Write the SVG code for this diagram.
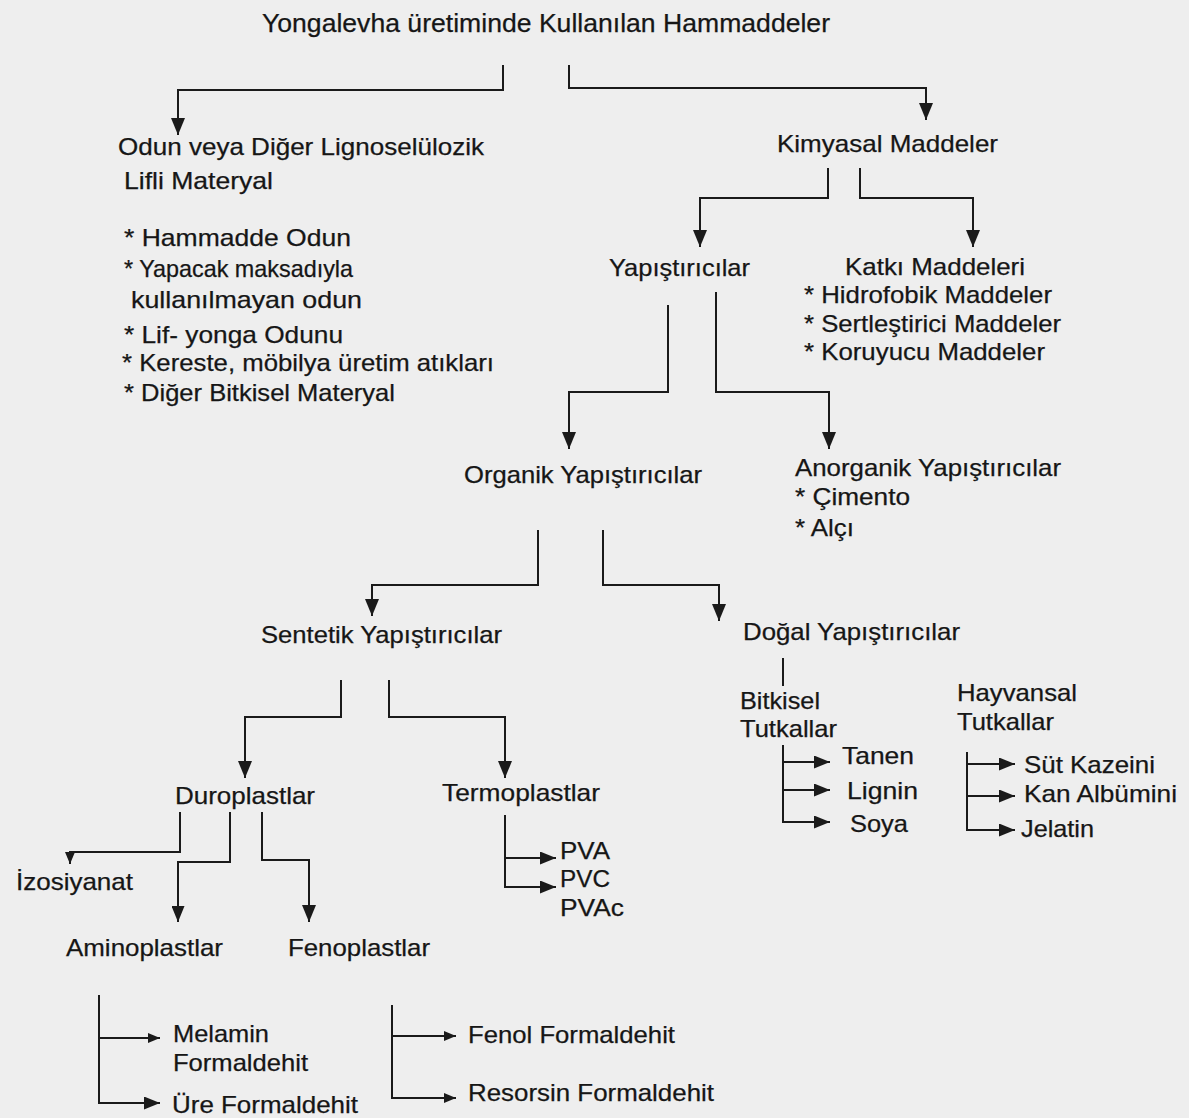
<svg xmlns="http://www.w3.org/2000/svg" width="1189" height="1118" viewBox="0 0 1189 1118">
<style>
text{font-family:"Liberation Sans",Arial,sans-serif;fill:#161616;font-size:24px;stroke:#161616;stroke-width:0.25}
.t{font-size:26px}
.c{fill:none;stroke:#1a1a1a;stroke-width:2}
.a{marker-end:url(#ah)}
.s{marker-end:url(#as)}
.m{marker-end:url(#am)}
</style>
<defs>
<marker id="ah" viewBox="0 0 17 14" refX="17" refY="7" markerWidth="17" markerHeight="14" orient="auto" markerUnits="userSpaceOnUse"><path d="M0,0 L17,7 L0,14 z" fill="#1a1a1a"/></marker>
<marker id="am" viewBox="0 0 16 13" refX="16" refY="6.5" markerWidth="16" markerHeight="13" orient="auto" markerUnits="userSpaceOnUse"><path d="M0,0 L16,6.5 L0,13 z" fill="#1a1a1a"/></marker>
<marker id="as" viewBox="0 0 12 10" refX="12" refY="5" markerWidth="12" markerHeight="10" orient="auto" markerUnits="userSpaceOnUse"><path d="M0,0 L12,5 L0,10 z" fill="#1a1a1a"/></marker>
</defs>
<rect width="1189" height="1118" fill="#eeeeee"/>
<g id="connectors">
<path class="c a" d="M503,65 V90 H178 V135"/>
<path class="c a" d="M569,65 V88 H926 V120"/>
<path class="c a" d="M828,168 V198 H700 V247"/>
<path class="c a" d="M860,168 V198 H973 V247"/>
<path class="c a" d="M668,305 V392 H569 V449"/>
<path class="c a" d="M716,292 V392 H829 V449"/>
<path class="c a" d="M538,530 V585 H372 V616"/>
<path class="c a" d="M603,530 V585 H719 V621"/>
<path class="c" d="M783,658 V686"/>
<path class="c m" d="M783,745 V822 H830"/>
<path class="c m" d="M783,762 H830"/>
<path class="c m" d="M783,790 H830"/>
<path class="c m" d="M967,752 V830 H1015"/>
<path class="c m" d="M967,764 H1015"/>
<path class="c m" d="M967,796 H1015"/>
<path class="c a" d="M341,680 V717 H245 V778"/>
<path class="c a" d="M389,680 V717 H505 V778"/>
<path class="c s" d="M180,812 V852 H70 V864"/>
<path class="c m" d="M230,812 V862 H178 V922"/>
<path class="c a" d="M262,812 V860 H309 V922"/>
<path class="c m" d="M505,815 V887 H556"/>
<path class="c m" d="M505,858 H556"/>
<path class="c m" d="M99,995 V1103 H160"/>
<path class="c s" d="M99,1038 H160"/>
<path class="c s" d="M392,1005 V1098 H456"/>
<path class="c s" d="M392,1036 H456"/>
</g>
<g id="root"><text class="t" x="262" y="32" textLength="568" lengthAdjust="spacingAndGlyphs">Yongalevha üretiminde Kullanılan  Hammaddeler</text></g>
<g id="odun">
<text x="118" y="155" textLength="366" lengthAdjust="spacingAndGlyphs">Odun veya Diğer Lignoselülozik</text>
<text x="124" y="189" textLength="149" lengthAdjust="spacingAndGlyphs">Lifli Materyal</text>
</g>
<g id="odun-list">
<text x="124" y="246" textLength="227" lengthAdjust="spacingAndGlyphs">* Hammadde Odun</text>
<text x="124" y="277" textLength="229" lengthAdjust="spacingAndGlyphs">* Yapacak maksadıyla</text>
<text x="131" y="308" textLength="231" lengthAdjust="spacingAndGlyphs">kullanılmayan  odun</text>
<text x="124" y="343" textLength="219" lengthAdjust="spacingAndGlyphs">* Lif- yonga Odunu</text>
<text x="122" y="371" textLength="372" lengthAdjust="spacingAndGlyphs">* Kereste, möbilya üretim atıkları</text>
<text x="124" y="401" textLength="271" lengthAdjust="spacingAndGlyphs">* Diğer Bitkisel Materyal</text>
</g>
<g id="kimyasal"><text x="777" y="152" textLength="221" lengthAdjust="spacingAndGlyphs">Kimyasal Maddeler</text></g>
<g id="yapistiricilar"><text x="609" y="276" textLength="141" lengthAdjust="spacingAndGlyphs">Yapıştırıcılar</text></g>
<g id="katki">
<text x="845" y="275" textLength="180" lengthAdjust="spacingAndGlyphs">Katkı Maddeleri</text>
<text x="804" y="303" textLength="248" lengthAdjust="spacingAndGlyphs">* Hidrofobik Maddeler</text>
<text x="804" y="332" textLength="257" lengthAdjust="spacingAndGlyphs">* Sertleştirici Maddeler</text>
<text x="804" y="360" textLength="241" lengthAdjust="spacingAndGlyphs">* Koruyucu Maddeler</text>
</g>
<g id="organik"><text x="464" y="483" textLength="238" lengthAdjust="spacingAndGlyphs">Organik Yapıştırıcılar</text></g>
<g id="anorganik">
<text x="795" y="476" textLength="266" lengthAdjust="spacingAndGlyphs">Anorganik Yapıştırıcılar</text>
<text x="795" y="505" textLength="115" lengthAdjust="spacingAndGlyphs">* Çimento</text>
<text x="795" y="536" textLength="59" lengthAdjust="spacingAndGlyphs">* Alçı</text>
</g>
<g id="sentetik"><text x="261" y="643" textLength="241" lengthAdjust="spacingAndGlyphs">Sentetik Yapıştırıcılar</text></g>
<g id="dogal"><text x="743" y="640" textLength="217" lengthAdjust="spacingAndGlyphs">Doğal Yapıştırıcılar</text></g>
<g id="bitkisel">
<text x="740" y="709" textLength="80" lengthAdjust="spacingAndGlyphs">Bitkisel</text>
<text x="740" y="737" textLength="97" lengthAdjust="spacingAndGlyphs">Tutkallar</text>
</g>
<g id="hayvansal">
<text x="957" y="701" textLength="120" lengthAdjust="spacingAndGlyphs">Hayvansal</text>
<text x="957" y="730" textLength="97" lengthAdjust="spacingAndGlyphs">Tutkallar</text>
</g>
<g id="tanen"><text x="842" y="764" textLength="72" lengthAdjust="spacingAndGlyphs">Tanen</text></g>
<g id="lignin"><text x="847" y="799" textLength="71" lengthAdjust="spacingAndGlyphs">Lignin</text></g>
<g id="soya"><text x="850" y="832" textLength="58" lengthAdjust="spacingAndGlyphs">Soya</text></g>
<g id="kazein"><text x="1024" y="773" textLength="131" lengthAdjust="spacingAndGlyphs">Süt Kazeini</text></g>
<g id="albumin"><text x="1024" y="802" textLength="153" lengthAdjust="spacingAndGlyphs">Kan Albümini</text></g>
<g id="jelatin"><text x="1021" y="837" textLength="73" lengthAdjust="spacingAndGlyphs">Jelatin</text></g>
<g id="duroplastlar"><text x="175" y="804" textLength="140" lengthAdjust="spacingAndGlyphs">Duroplastlar</text></g>
<g id="termoplastlar"><text x="442" y="801" textLength="158" lengthAdjust="spacingAndGlyphs">Termoplastlar</text></g>
<g id="izosiyanat"><text x="16" y="890" textLength="117" lengthAdjust="spacingAndGlyphs">İzosiyanat</text></g>
<g id="aminoplastlar"><text x="66" y="956" textLength="157" lengthAdjust="spacingAndGlyphs">Aminoplastlar</text></g>
<g id="fenoplastlar"><text x="288" y="956" textLength="142" lengthAdjust="spacingAndGlyphs">Fenoplastlar</text></g>
<g id="pva"><text x="560" y="859" textLength="50" lengthAdjust="spacingAndGlyphs">PVA</text></g>
<g id="pvc"><text x="560" y="887" textLength="50" lengthAdjust="spacingAndGlyphs">PVC</text></g>
<g id="pvac"><text x="560" y="916" textLength="64" lengthAdjust="spacingAndGlyphs">PVAc</text></g>
<g id="melamin">
<text x="173" y="1042" textLength="96" lengthAdjust="spacingAndGlyphs">Melamin</text>
<text x="173" y="1071" textLength="135" lengthAdjust="spacingAndGlyphs">Formaldehit</text>
</g>
<g id="ure"><text x="172" y="1113" textLength="186" lengthAdjust="spacingAndGlyphs">Üre Formaldehit</text></g>
<g id="fenol"><text x="468" y="1043" textLength="207" lengthAdjust="spacingAndGlyphs">Fenol Formaldehit</text></g>
<g id="resorsin"><text x="468" y="1101" textLength="246" lengthAdjust="spacingAndGlyphs">Resorsin Formaldehit</text></g>
</svg>
